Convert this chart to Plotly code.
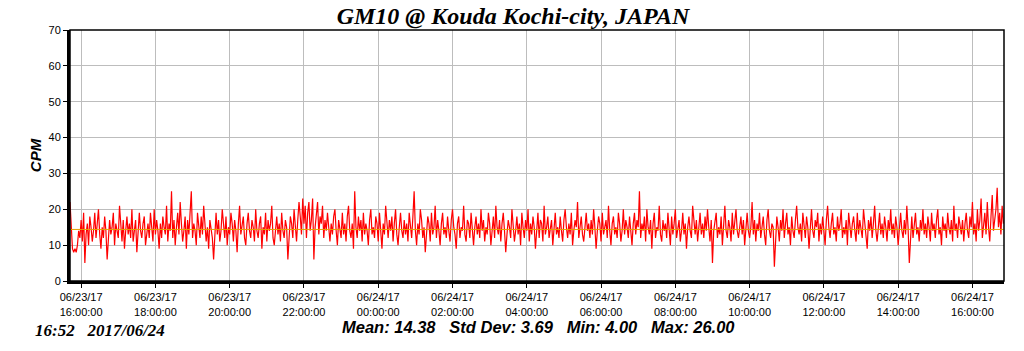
import plotly.graph_objects as go
import pandas as pd

start_time = "2017-06-23 15:42"
step_minutes = 2

cpm = [
22,16,9,8,9,8,10,14,12,17,11,19,5,13,16,10,18,15,11,14,19,12,16,20,13,9,15,12,18,14,
6,11,17,13,15,19,10,16,14,12,21,15,11,17,9,14,18,13,16,12,20,11,15,17,8,13,19,14,12,16,
18,10,14,16,12,19,15,11,20,13,17,14,9,16,12,18,15,13,21,11,16,14,25,12,17,10,15,19,13,22,
16,11,14,18,9,17,13,20,25,12,16,14,10,19,15,12,18,13,21,16,11,15,9,17,14,12,6,15,19,13,
17,11,14,20,16,12,18,10,15,13,19,16,11,17,14,8,16,21,13,15,18,12,10,16,19,14,12,17,15,11,
20,14,12,16,18,9,15,13,19,11,17,14,16,21,12,10,15,18,13,16,11,19,14,12,17,15,6,13,18,16,
12,20,15,11,17,22,18,13,23,16,21,12,19,22,14,17,23,6,15,20,22,13,18,16,21,12,17,14,19,15,
11,16,13,18,20,14,10,17,15,12,19,13,16,11,18,21,14,12,16,9,25,15,12,18,14,17,11,19,13,16,
14,10,17,20,13,15,12,18,16,11,19,14,9,16,13,21,15,12,17,14,18,11,16,20,13,10,15,19,14,12,
17,13,16,11,19,15,12,18,25,14,10,16,13,20,17,12,15,8,14,18,16,11,19,13,15,21,12,17,14,10,
16,19,13,15,12,18,14,11,17,20,15,13,9,16,18,12,15,14,21,13,11,17,16,12,19,14,10,15,18,13,
16,12,20,14,17,11,15,13,19,16,10,14,18,12,21,15,13,17,11,16,19,14,8,13,17,15,12,20,16,11,
14,18,13,16,10,19,15,12,17,14,20,11,16,13,18,15,9,14,19,12,17,16,11,21,13,15,18,12,14,17,
10,16,19,13,15,12,18,14,11,17,20,15,12,16,13,19,10,14,17,15,22,12,16,18,13,11,15,19,14,16,
12,17,13,20,15,9,14,18,16,11,19,13,15,17,12,21,14,10,16,18,13,15,12,19,16,11,14,20,13,17,
15,12,18,14,10,16,19,13,17,15,25,12,16,14,18,11,20,15,13,17,9,16,19,12,15,14,21,13,11,17,
14,16,12,19,15,10,18,13,16,20,12,15,17,11,14,19,13,16,9,15,18,14,12,21,16,13,17,11,15,19,
13,16,12,18,14,20,15,11,17,5,14,16,19,12,15,13,18,10,16,21,14,12,17,15,11,19,13,16,20,14,
12,15,18,13,17,10,16,19,14,12,15,22,13,17,11,16,14,19,12,15,18,13,10,17,20,14,12,16,15,4,
13,18,15,11,17,14,20,12,16,19,13,15,10,18,14,12,17,21,15,13,16,11,19,14,12,18,15,9,16,20,
14,12,17,15,19,11,16,13,18,14,10,17,21,15,12,16,19,13,15,11,18,14,16,20,12,15,13,17,10,19,
15,12,16,18,14,11,19,13,17,15,12,20,16,13,9,17,14,18,12,16,21,14,11,15,19,13,16,12,18,15,
11,17,14,20,13,16,12,18,15,10,16,19,14,12,17,13,21,15,5,14,18,12,16,19,13,15,11,17,14,20,
13,16,12,18,15,11,19,14,16,12,17,20,13,15,10,18,14,16,12,19,15,13,17,11,21,14,16,12,18,15,
13,17,11,16,19,14,12,18,15,22,13,16,11,20,14,17,23,12,16,19,13,22,15,11,18,24,14,17,20,26,
15,19,13,21,16,
]

mean_value = 14.38
title_text = "GM10 @ Kouda Kochi-city, JAPAN"
stats_text = "Mean: 14.38&nbsp;&nbsp;&nbsp;Std Dev: 3.69&nbsp;&nbsp;&nbsp;Min: 4.00&nbsp;&nbsp;&nbsp;Max: 26.00"
stamp_text = "16:52&nbsp;&nbsp;&nbsp;2017/06/24"
x_range = ["2017-06-23 15:42", "2017-06-24 16:51"]
y_range = [0, 70]

times = pd.date_range(start=start_time, periods=len(cpm), freq=f"{step_minutes}min")

fig = go.Figure()
fig.add_trace(go.Scatter(x=times, y=cpm, mode="lines",
                         line=dict(color="#FF0000", width=1.2), showlegend=False,
                         hoverinfo="skip"))
fig.add_trace(go.Scatter(x=[times[0], times[-1]], y=[mean_value, mean_value], mode="lines",
                         line=dict(color="#E8A000", width=1), showlegend=False,
                         hoverinfo="skip"))

tickfont = dict(family="Liberation Sans, Arial", size=11, color="black")

fig.update_layout(
    width=1024, height=351,
    margin=dict(l=70, r=20, t=30, b=70),
    paper_bgcolor="white", plot_bgcolor="white",
    title=dict(text="<b><i>" + title_text + "</i></b>", x=(513 / 1024), xanchor="center",
               y=1 - 16 / 351, yanchor="middle",
               font=dict(family="Liberation Serif, Times New Roman", size=24, color="black")),
    xaxis=dict(range=x_range, type="date", tick0="2017-06-23 16:00", dtick=2 * 3600 * 1000,
               tickformat="%m/%d/%y<br>%H:%M:%S", tickfont=tickfont,
               showgrid=True, gridcolor="#BDBDBD", gridwidth=1,
               ticks="outside", ticklen=4, tickcolor="black",
               showline=True, linecolor="black", linewidth=3, zeroline=False),
    yaxis=dict(range=y_range, dtick=10, tickfont=tickfont,
               showgrid=True, gridcolor="#BDBDBD", gridwidth=1,
               ticks="outside", ticklen=4, tickcolor="black",
               showline=True, linecolor="black", linewidth=3, zeroline=False,
               title=dict(text="<b><i>CPM</i></b>", standoff=4,
                          font=dict(family="Liberation Sans, Arial", size=15, color="black"))),
    shapes=[dict(type="rect", xref="paper", yref="paper", x0=0, x1=1, y0=0, y1=1,
                 line=dict(color="black", width=1.5), layer="above")],
    annotations=[
        dict(text="<b><i>" + stats_text + "</i></b>", xref="paper", yref="paper",
             x=(538 - 70) / 934, y=-(327 - 281) / 251, xanchor="center", yanchor="middle",
             showarrow=False, font=dict(family="Liberation Sans, Arial", size=16.5, color="black")),
        dict(text="<b><i>" + stamp_text + "</i></b>", xref="paper", yref="paper",
             x=(33 - 70) / 934, y=-(330 - 281) / 251, xanchor="left", yanchor="middle",
             showarrow=False, font=dict(family="Liberation Serif, Times New Roman", size=17, color="black")),
    ],
)

fig.write_html("out.html")
